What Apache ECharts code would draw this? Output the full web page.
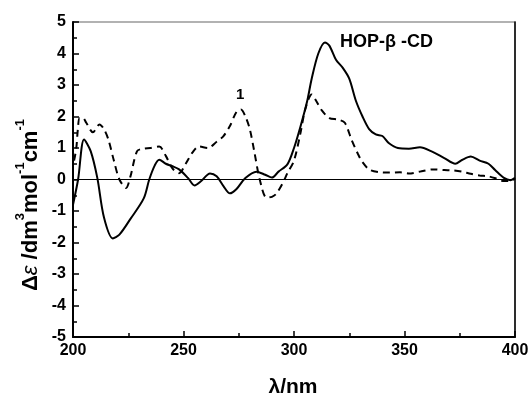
<!DOCTYPE html>
<html>
<head>
<meta charset="utf-8">
<script src="https://cdn.jsdelivr.net/npm/echarts@6/dist/echarts.min.js"></script>
<style>html,body{margin:0;padding:0;background:#fff}#c{width:532px;height:398px}</style>
</head>
<body>
<div id="c"></div>
<script>
// HOP-β-CD (solid)
var solidX = [200,202.3,205,208,211,214,218,221,226,232,234.5,237,239,242,245,248,252,255,258,262,265,268,271,274,278,283,287,290,293,297,300,303,306,308,311,314,316,319,322,325,328,331,334,337,340,343,347,352,357,362,368,373,376,380,384,388,391,395,398,400];
var solidY = [-0.8,0,1.27,0.9,0.05,-1.2,-1.87,-1.75,-1.25,-0.6,0,0.45,0.63,0.5,0.42,0.32,0.05,-0.19,-0.05,0.19,0.1,-0.2,-0.44,-0.3,0.05,0.25,0.15,0.06,0.25,0.48,1.0,1.7,2.5,3.2,4.0,4.35,4.25,3.8,3.55,3.2,2.5,2.0,1.6,1.43,1.38,1.15,1.0,0.98,1.02,0.9,0.68,0.5,0.62,0.73,0.6,0.5,0.3,0.05,-0.02,0.05];
// compound 1 (dashed)
var dashX = [200.5,201.5,202.2,203,204.5,206,209,212,214,216,218.5,221,224,226,229,232,235,239,242,245,248,251,254,257,261,265,268,271,274,276,278,280,282,284.5,287.5,290,292,295,297,300,303,305,308,310,312.5,316,320,323,326,329,331,334,338,343,348,352,357,363,368,372,376,380,384,388,392,395,398,400];
var dashY = [0.6,1.0,1.6,1.95,1.95,1.8,1.5,1.75,1.6,1.27,0.6,0,-0.27,0.1,0.9,0.98,1.0,1.05,0.75,0.35,0.2,0.5,0.85,1.05,1.0,1.2,1.37,1.7,2.15,2.22,2.0,1.6,0.9,0,-0.57,-0.55,-0.45,-0.1,0.2,0.6,1.5,2.2,2.7,2.5,2.2,1.95,1.9,1.8,1.27,0.8,0.55,0.32,0.24,0.22,0.23,0.19,0.25,0.32,0.3,0.29,0.25,0.18,0.13,0.1,0.02,-0.05,-0.04,0.02];
var xTicks = [200,250,300,350,400];
var yTicks = [-5,-4,-3,-2,-1,0,1,2,3,4,5];

function zip(a,b){return a.map(function(v,i){return [v,b[i]];});}
var FONT = '"Liberation Sans", Arial, sans-serif';
var chart = echarts.init(document.getElementById('c'), null, {renderer:'canvas'});
chart.setOption({
  animation:false,
  grid:{left:73,right:17,top:22,bottom:61,show:true,borderColor:'#999',borderWidth:1.5,backgroundColor:'transparent'},
  xAxis:[{
    type:'value',min:xTicks[0],max:xTicks[xTicks.length-1],interval:50,
    axisLine:{onZero:false,lineStyle:{color:'#000',width:2}},
    axisTick:{inside:true,length:6,lineStyle:{color:'#000',width:1.5}},
    minorTick:{show:true,splitNumber:2,length:4,lineStyle:{color:'#000',width:1.5}},
    axisLabel:{color:'#000',fontFamily:FONT,fontWeight:'bold',fontSize:16,margin:6},
    splitLine:{show:false}
  }],
  yAxis:[{
    type:'value',min:yTicks[0],max:yTicks[yTicks.length-1],interval:1,
    axisLine:{show:true,onZero:false,lineStyle:{color:'#000',width:2}},
    axisTick:{show:true,inside:true,length:6,lineStyle:{color:'#000',width:1.5}},
    minorTick:{show:true,splitNumber:2,length:4,lineStyle:{color:'#000',width:1.5}},
    axisLabel:{color:'#000',fontFamily:FONT,fontWeight:'bold',fontSize:16,margin:7},
    splitLine:{show:false}
  },{
    type:'value',position:'right',min:-5,max:5,
    axisLine:{show:true,onZero:false,lineStyle:{color:'#000',width:1.5}},
    axisTick:{show:false},axisLabel:{show:false},splitLine:{show:false}
  }],
  series:[{
    type:'line',data:zip(solidX,solidY),smooth:0.3,showSymbol:false,
    lineStyle:{color:'#000',width:2},
    markLine:{silent:true,symbol:'none',label:{show:false},
      lineStyle:{color:'#000',width:1,type:'solid'},data:[{yAxis:0}]}
  },{
    type:'line',data:zip(dashX,dashY),smooth:0.3,showSymbol:false,
    lineStyle:{color:'#000',width:2,type:[7,5]}
  }],
  graphic:[
    {type:'text',left:340,top:33,style:{text:'HOP-β -CD',font:'bold 18px '+FONT,fill:'#000'}},
    {type:'text',left:236,top:87,style:{text:'1',font:'bold 15px '+FONT,fill:'#000'}},
    {type:'text',x:293,y:387,style:{text:'λ/nm',font:'bold 21px '+FONT,fill:'#000',align:'center',verticalAlign:'middle'}},
    {type:'text',x:28,y:205,rotation:Math.PI/2,style:{
      text:'{n|Δ}{i|ε}{n| /dm}{s|3}{n|mol}{s|-1}{n|cm}{s|-1}',
      align:'center',verticalAlign:'middle',fill:'#000',
      rich:{
        n:{fontFamily:FONT,fontWeight:'bold',fontSize:22,lineHeight:28,verticalAlign:'bottom'},
        i:{fontFamily:FONT,fontStyle:'italic',fontSize:22,lineHeight:28,verticalAlign:'bottom'},
        s:{fontFamily:FONT,fontWeight:'bold',fontSize:13,lineHeight:28,verticalAlign:'top'}
      }
    }}
  ]
});
</script>
</body>
</html>
